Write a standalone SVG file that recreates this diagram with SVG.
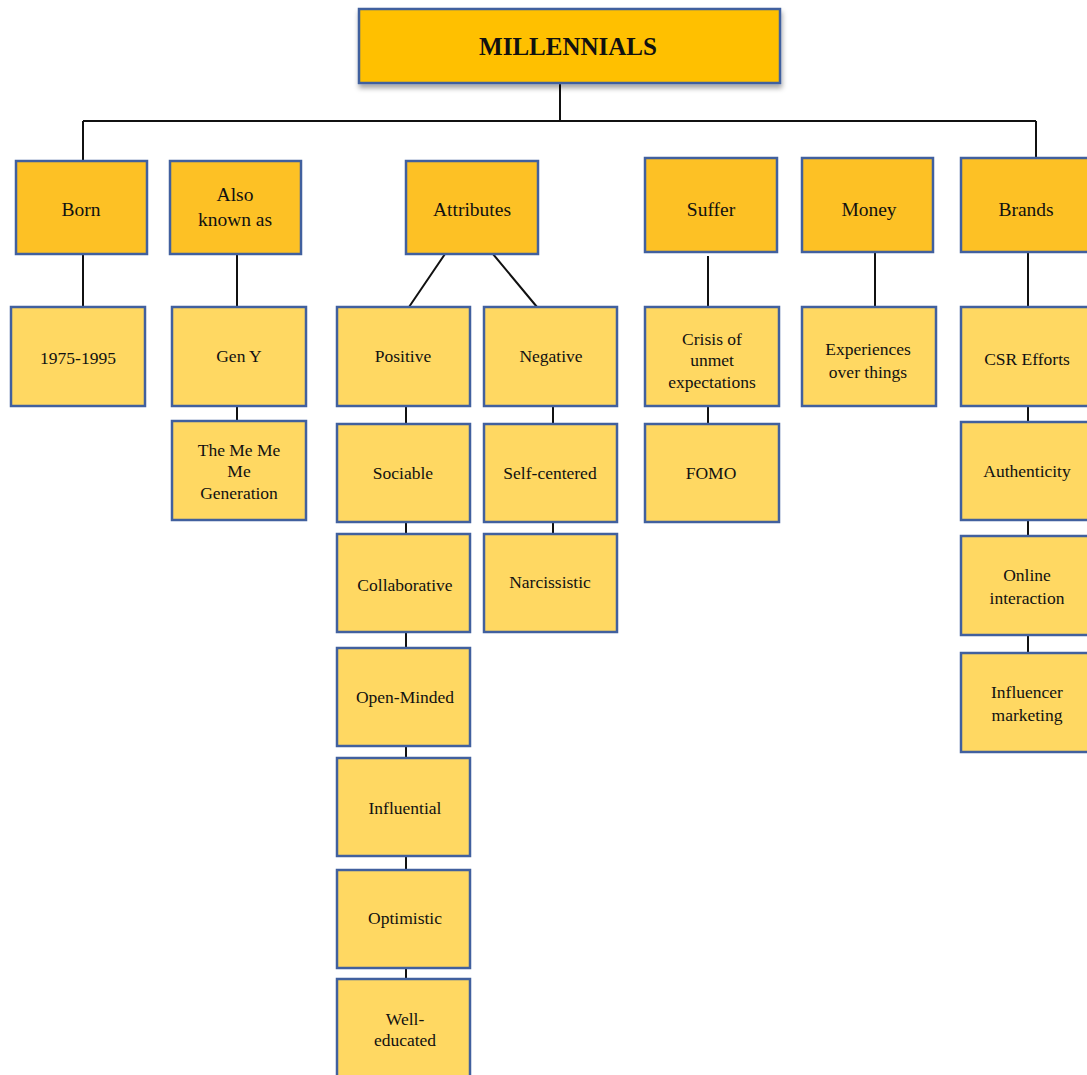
<svg xmlns="http://www.w3.org/2000/svg" width="1087" height="1075" viewBox="0 0 1087 1075">
<style>
.t{font-family:"Liberation Serif","Times New Roman",serif;font-size:17.5px;fill:#111;text-anchor:middle;dominant-baseline:central}
.h{font-size:19.5px}
.title{font-family:"Liberation Serif","Times New Roman",serif;font-size:25px;font-weight:bold;fill:#111;text-anchor:middle;dominant-baseline:central}
.l0{fill:#FFC000;stroke:#41609E;stroke-width:2.5}
.l1{fill:#FDC125;stroke:#41609E;stroke-width:2.5}
.l2{fill:#FFD862;stroke:#41609E;stroke-width:2.5}
.c{stroke:#111;stroke-width:2;fill:none}
</style>
<defs>
<filter id="sh" x="-10%" y="-20%" width="120%" height="150%">
<feDropShadow dx="1" dy="4" stdDeviation="2.5" flood-color="#000" flood-opacity="0.35"/>
</filter>
</defs>
<rect width="1087" height="1075" fill="#fff"/>
<g id="connectors">
<path class="c" d="M560 83V121M83 121H1036M83 121V161M1036 121V158"/>
<path class="c" d="M83 254V307M237 254V307M237 406V421"/>
<path class="c" d="M445 254L409 307M493 254L537 307"/>
<path class="c" d="M406 406V424M406 522V534M406 632V648M406 746V758M406 856V870M406 968V979"/>
<path class="c" d="M553 406V424M553 522V534"/>
<path class="c" d="M708 256V307M708 406V424"/>
<path class="c" d="M875 252V307"/>
<path class="c" d="M1028 252V307M1028 406V422M1028 520V536M1028 635V653"/>
</g>
<g id="n-millennials"><rect class="l0" x="359" y="9" width="421" height="74" filter="url(#sh)"/><text class="title" x="568" y="46">MILLENNIALS</text></g>
<g id="n-born"><rect class="l1" x="16" y="161" width="131" height="93"/><text class="t h" x="81" y="209">Born</text></g>
<g id="n-aka"><rect class="l1" x="170" y="161" width="131" height="93"/><text class="t h" x="235" y="194">Also</text><text class="t h" x="235" y="219">known as</text></g>
<g id="n-attributes"><rect class="l1" x="406" y="161" width="132" height="93"/><text class="t h" x="472" y="209">Attributes</text></g>
<g id="n-suffer"><rect class="l1" x="645" y="158" width="132" height="94"/><text class="t h" x="711" y="209">Suffer</text></g>
<g id="n-money"><rect class="l1" x="802" y="158" width="131" height="94"/><text class="t h" x="869" y="209">Money</text></g>
<g id="n-brands"><rect class="l1" x="961" y="158" width="130" height="94"/><text class="t h" x="1026" y="209">Brands</text></g>
<g id="n-1975"><rect class="l2" x="11" y="307" width="134" height="99"/><text class="t" x="78" y="358">1975-1995</text></g>
<g id="n-geny"><rect class="l2" x="172" y="307" width="134" height="99"/><text class="t" x="239" y="356">Gen Y</text></g>
<g id="n-meme"><rect class="l2" x="172" y="421" width="134" height="99"/><text class="t" x="239" y="450">The Me Me</text><text class="t" x="239" y="471">Me</text><text class="t" x="239" y="493">Generation</text></g>
<g id="n-positive"><rect class="l2" x="337" y="307" width="133" height="99"/><text class="t" x="403" y="356">Positive</text></g>
<g id="n-negative"><rect class="l2" x="484" y="307" width="133" height="99"/><text class="t" x="551" y="356">Negative</text></g>
<g id="n-sociable"><rect class="l2" x="337" y="424" width="133" height="98"/><text class="t" x="403" y="473">Sociable</text></g>
<g id="n-collab"><rect class="l2" x="337" y="534" width="133" height="98"/><text class="t" x="405" y="585">Collaborative</text></g>
<g id="n-open"><rect class="l2" x="337" y="648" width="133" height="98"/><text class="t" x="405" y="697">Open-Minded</text></g>
<g id="n-influential"><rect class="l2" x="337" y="758" width="133" height="98"/><text class="t" x="405" y="808">Influential</text></g>
<g id="n-optimistic"><rect class="l2" x="337" y="870" width="133" height="98"/><text class="t" x="405" y="918">Optimistic</text></g>
<g id="n-welled"><rect class="l2" x="337" y="979" width="133" height="110"/><text class="t" x="405" y="1019">Well-</text><text class="t" x="405" y="1040">educated</text></g>
<g id="n-self"><rect class="l2" x="484" y="424" width="133" height="98"/><text class="t" x="550" y="473">Self-centered</text></g>
<g id="n-narc"><rect class="l2" x="484" y="534" width="133" height="98"/><text class="t" x="550" y="582">Narcissistic</text></g>
<g id="n-crisis"><rect class="l2" x="645" y="307" width="134" height="99"/><text class="t" x="712" y="339">Crisis of</text><text class="t" x="712" y="360">unmet</text><text class="t" x="712" y="382">expectations</text></g>
<g id="n-fomo"><rect class="l2" x="645" y="424" width="134" height="98"/><text class="t" x="711" y="473">FOMO</text></g>
<g id="n-exp"><rect class="l2" x="802" y="307" width="134" height="99"/><text class="t" x="868" y="349">Experiences</text><text class="t" x="868" y="372">over things</text></g>
<g id="n-csr"><rect class="l2" x="961" y="307" width="130" height="99"/><text class="t" x="1027" y="359">CSR Efforts</text></g>
<g id="n-auth"><rect class="l2" x="961" y="422" width="130" height="98"/><text class="t" x="1027" y="471">Authenticity</text></g>
<g id="n-online"><rect class="l2" x="961" y="536" width="130" height="99"/><text class="t" x="1027" y="575">Online</text><text class="t" x="1027" y="598">interaction</text></g>
<g id="n-influencer"><rect class="l2" x="961" y="653" width="130" height="99"/><text class="t" x="1027" y="692">Influencer</text><text class="t" x="1027" y="715">marketing</text></g>
</svg>
